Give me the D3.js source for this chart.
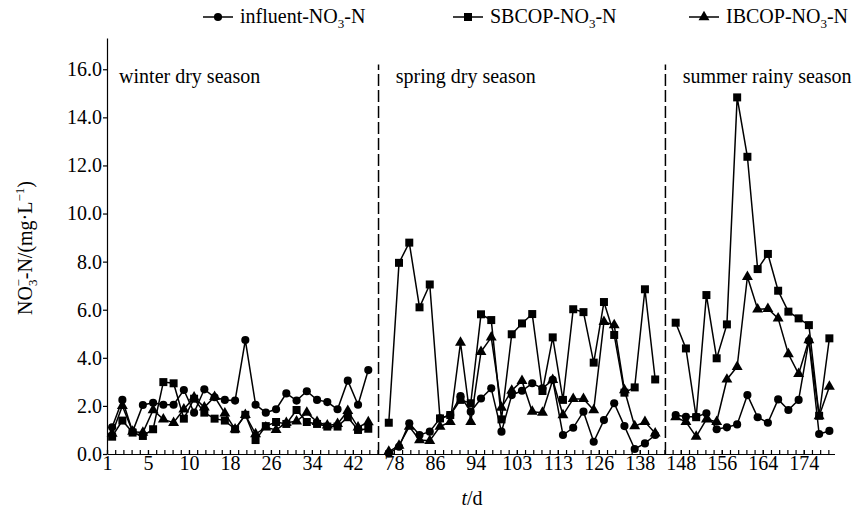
<!DOCTYPE html>
<html>
<head>
<meta charset="utf-8" />
<style>
    body { margin: 0; background: #fff; }
    text { font-family: "Liberation Serif", "Times New Roman", serif; fill: #000; }
    .series path.line { fill: none; stroke: #000; stroke-width: 1.5px; }
    .axis path, .axis line { stroke: #000; stroke-width: 1.2px; }
    .axis text { font-size: 20px; font-family: "Liberation Serif", serif; }
</style>
</head>
<body>
<svg width="861" height="511" font-family="Liberation Serif"></svg>
<script src="https://d3js.org/d3.v7.min.js"></script>
<script>

// sample slots: winter 0-25, break at 26, spring 27-53, break at 54, summer 55-70
var seasons = ["winter dry season", "spring dry season", "summer rainy season"];
var seasonStart = [0, 27, 55];
var breaks = [26, 54];

var winterInfluent = [1.11, 2.25, 0.93, 2.04, 2.13, 2.05, 2.05, 2.66, 1.72, 2.69, 2.36, 2.25, 2.22, 4.74, 2.05, 1.72, 1.86, 2.52, 2.22, 2.61, 2.25, 2.16, 1.86, 3.05, 2.05, 3.49];
var winterSBCOP = [0.72, 1.39, 0.89, 0.75, 1.03, 2.99, 2.94, 1.47, 2.30, 1.72, 1.47, 1.39, 1.03, 1.63, 0.58, 1.16, 1.33, 1.25, 1.83, 1.33, 1.25, 1.14, 1.14, 1.53, 1.00, 1.05];
var winterIBCOP = [0.85, 2.00, 0.93, 0.89, 1.83, 1.44, 1.30, 1.86, 2.36, 1.94, 2.38, 1.69, 1.03, 1.63, 0.83, 1.11, 1.00, 1.30, 1.36, 1.72, 1.34, 1.19, 1.25, 1.80, 1.11, 1.33];

var springInfluent = [0.03, 0.30, 1.28, 0.79, 0.93, 1.48, 1.62, 2.41, 1.76, 2.31, 2.73, 0.93, 2.45, 2.63, 2.94, 2.73, 3.08, 0.79, 1.09, 1.76, 0.51, 1.41, 2.11, 1.16, 0.21, 0.44, 0.79];
var springSBCOP = [1.30, 7.95, 8.79, 6.10, 7.05, 1.48, 1.62, 2.25, 2.11, 5.81, 5.57, 1.44, 4.98, 5.43, 5.82, 2.62, 4.85, 2.25, 6.02, 5.90, 3.80, 6.32, 4.95, 2.55, 2.77, 6.85, 3.10];
var springIBCOP = [0.10, 0.35, 1.14, 0.58, 0.55, 1.14, 1.34, 4.63, 1.34, 4.25, 4.85, 1.93, 2.64, 3.04, 1.76, 1.72, 3.08, 1.62, 2.29, 2.29, 1.83, 5.50, 5.36, 2.66, 1.16, 1.34, 0.86];

var summerInfluent = [1.62, 1.55, 1.55, 1.69, 1.03, 1.11, 1.23, 2.45, 1.53, 1.30, 2.27, 1.83, 2.25, 4.71, 0.83, 0.96];
var summerSBCOP = [5.46, 4.39, 1.53, 6.61, 3.98, 5.39, 14.83, 12.36, 7.69, 8.32, 6.79, 5.92, 5.64, 5.36, 1.59, 4.81];
var summerIBCOP = [1.53, 1.34, 0.72, 1.44, 1.34, 3.10, 3.63, 7.37, 6.02, 6.04, 5.64, 4.16, 3.33, 4.74, 1.58, 2.80];

// x tick labels sit every 4 slots starting half a slot before the first sample
var tickLabels = ["1", "5", "10", "18", "26", "34", "42", "78", "86", "94", "103", "113", "126", "138", "148", "156", "164", "174"];
var yTicks = [0, 2, 4, 6, 8, 10, 12, 14, 16];

var series = [
    {name: "influent", symbol: d3.symbolCircle, size: 52, seasons: [winterInfluent, springInfluent, summerInfluent]},
    {name: "SBCOP", symbol: d3.symbolSquare, size: 64, seasons: [winterSBCOP, springSBCOP, summerSBCOP]},
    {name: "IBCOP", symbol: d3.symbolTriangle, size: 52, seasons: [winterIBCOP, springIBCOP, summerIBCOP]}
];

var serif = "Liberation Serif";
var svg = d3.select("svg");

var x = d3.scaleLinear().domain([-0.5, 70.5]).range([107, 834.5]);
var y = d3.scaleLinear().domain([0, 17.3]).range([454, 38]);

// x axis: major labelled ticks + minor ticks, all pointing inward
var majorPos = tickLabels.map(function (d, i) { return -0.5 + 4 * i; });
var minorPos = d3.range(0, 89).map(function (k) { return -0.5 + 0.8 * k; });

svg.append("g")
    .attr("class", "axis")
    .attr("transform", "translate(0," + y(0) + ")")
    .call(d3.axisBottom(x).tickValues(minorPos).tickSizeInner(-4).tickSizeOuter(0).tickFormat(""));

var xAxis = svg.append("g")
    .attr("class", "axis")
    .attr("transform", "translate(0," + y(0) + ")")
    .call(d3.axisBottom(x).tickValues(majorPos).tickSizeInner(-4).tickSizeOuter(0).tickPadding(2)
        .tickFormat(function (d, i) { return tickLabels[i]; }))
    .attr("font-family", serif)
    .attr("font-size", 20);
xAxis.select(".domain").remove();

svg.append("g")
    .attr("class", "axis")
    .attr("transform", "translate(" + x(-0.5) + ",0)")
    .call(d3.axisLeft(y).tickValues(yTicks).tickSizeInner(4).tickSizeOuter(0).tickPadding(1)
        .tickFormat(d3.format(".1f")))
    .attr("font-family", serif)
    .attr("font-size", 20);

// season separators
svg.selectAll("line.sep")
    .data(breaks)
    .enter().append("line")
    .attr("class", "sep")
    .attr("x1", function (d) { return x(d); })
    .attr("x2", function (d) { return x(d); })
    .attr("y1", y(0))
    .attr("y2", y(16.2))
    .attr("stroke", "#000")
    .attr("stroke-width", 1.5)
    .attr("stroke-dasharray", "12,4");

svg.selectAll("text.season")
    .data(seasons)
    .enter().append("text")
    .attr("class", "season")
    .attr("x", function (d, i) { return x(seasonStart[i]) + 7; })
    .attr("y", 83)
    .attr("font-family", serif)
    .style("font-size", "20px")
    .text(function (d) { return d; });

var line = d3.line()
    .x(function (d) { return x(d.i); })
    .y(function (d) { return y(d.v); });

series.forEach(function (s) {
    var g = svg.append("g").attr("class", "series");
    var pts = [];
    s.seasons.forEach(function (vals, k) {
        var seg = vals.map(function (v, j) { return {i: seasonStart[k] + j, v: v}; });
        pts = pts.concat(seg);
        g.append("path").attr("class", "line").attr("d", line(seg));
    });
    g.selectAll("path.mark")
        .data(pts)
        .enter().append("path")
        .attr("class", "mark")
        .attr("d", d3.symbol().type(s.symbol).size(s.size))
        .attr("transform", function (d) { return "translate(" + x(d.i) + "," + y(d.v) + ")"; })
        .attr("fill", "#000");
});

// legend
var legendX = [203, 453, 689];
var legend = svg.selectAll("g.legend")
    .data(series)
    .enter().append("g")
    .attr("class", "legend")
    .attr("transform", function (d, i) { return "translate(" + legendX[i] + ",17)"; });
legend.append("line")
    .attr("x1", 0).attr("x2", 30)
    .attr("stroke", "#000").attr("stroke-width", 1.5);
legend.append("path")
    .attr("d", function (d) { return d3.symbol().type(d.symbol).size(d.size)(); })
    .attr("transform", "translate(15,0)");
var lt = legend.append("text")
    .attr("x", 37)
    .attr("y", 6)
    .attr("font-family", serif)
    .style("font-size", "20px");
lt.append("tspan").text(function (d) { return d.name + "-NO"; });
lt.append("tspan").attr("dy", 5).style("font-size", "13px").text("3");
lt.append("tspan").attr("dy", -5).text("-N");

// y label
var yl = svg.append("text")
    .attr("transform", "translate(32,248) rotate(-90)")
    .attr("text-anchor", "middle")
    .attr("font-family", serif)
    .style("font-size", "20px");
yl.append("tspan").text("NO");
yl.append("tspan").attr("dy", 5).style("font-size", "13px").text("3");
yl.append("tspan").attr("dx", -7).attr("dy", -14).style("font-size", "13px").text("\u2212");
yl.append("tspan").attr("dy", 9).text("-N/(mg\u00b7L");
yl.append("tspan").attr("dy", -8).style("font-size", "13px").text("\u22121");
yl.append("tspan").attr("dy", 8).text(")");

// x label
var xl = svg.append("text")
    .attr("x", 472)
    .attr("y", 505)
    .attr("text-anchor", "middle")
    .attr("font-family", serif)
    .style("font-size", "20px");
xl.append("tspan").style("font-style", "italic").text("t");
xl.append("tspan").text("/d");

</script>
</body>
</html>
